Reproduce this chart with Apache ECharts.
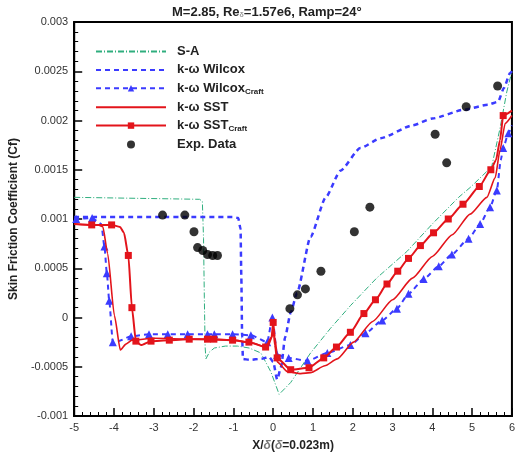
<!DOCTYPE html>
<html>
<head>
<meta charset="utf-8">
<script src="https://cdn.jsdelivr.net/npm/echarts@6/dist/echarts.min.js"></script>
<style>
  html, body { margin: 0; padding: 0; background: #fff; }
  #chart { width: 518px; height: 457px; }
</style>
</head>
<body>
<div id="chart"></div>
<script>
// x = X/delta, y = Cf ; third value 1 = draw a marker on that point
const saData = [[-5,0.00122],[-1.85,0.0012],[-1.78,0.00118],[-1.75,0.0008],[-1.73,0.0002],[-1.71,-0.0003],[-1.69,-0.00042],[-1.6,-0.00035],[-1.48,-0.00031],[-1.2,-0.00029],[-0.9,-0.00029],[-0.6,-0.00031],[-0.31,-0.00036],[-0.06,-0.00055],[0.15,-0.00078],[0.44,-0.00066],[0.94,-0.00036],[1.44,-0.00011],[1.94,0.00012],[2.6,0.0004],[3.36,0.00067],[4.0,0.00095],[4.66,0.00122],[4.95,0.00132],[5.49,0.00153],[5.7,0.00192],[5.87,0.00229],[6,0.0025]];

const wilcoxData = [[-5,0.00102],[-1,0.00102],[-0.88,0.00101],[-0.82,0.0009],[-0.8,0.0004],[-0.78,-0.0002],[-0.76,-0.00042],[-0.6,-0.00043],[-0.3,-0.00042],[-0.1,-0.0004],[0,-0.00045],[0.1,-0.00063],[0.2,-0.0005],[0.3,-0.0002],[0.44,0.00005],[0.6,0.00025],[0.94,0.00082],[1.32,0.00122],[1.69,0.00149],[2.19,0.00172],[2.7,0.00182],[3.5,0.00195],[4.0,0.00202],[4.8,0.00211],[5.4,0.00216],[5.65,0.00219],[5.8,0.00233],[5.95,0.00248],[6,0.0025]];

const wilcoxCraftData = [[-5,0.001,0],[-4.95,0.001,1],[-4.55,0.00101,1],[-4.32,0.00095,0],[-4.24,0.00072,1],[-4.18,0.00045,1],[-4.12,0.00017,1],[-4.03,-0.00025,1],[-3.9,-0.00024,0],[-3.57,-0.00019,1],[-3.12,-0.00017,1],[-2.65,-0.00017,1],[-2.15,-0.00017,1],[-1.65,-0.00017,1],[-1.48,-0.00017,1],[-1.02,-0.00017,1],[-0.56,-0.00018,1],[-0.15,-0.00025,1],[-0.02,0,1],[0.1,-0.00038,1],[0.39,-0.00041,1],[0.86,-0.00044,1],[1.36,-0.00036,1],[1.94,-0.00028,1],[2.32,-0.00016,1],[2.74,-0.00003,1],[3.11,0.00009,1],[3.4,0.00024,1],[3.78,0.00039,1],[4.16,0.00052,1],[4.49,0.00064,1],[4.91,0.0008,1],[5.2,0.00095,1],[5.45,0.00112,1],[5.62,0.00129,1],[5.72,0.0016,0],[5.78,0.00172,1],[5.91,0.00187,1],[6,0.00195,0]];

const sstData = [[-5,0.00095],[-4.4,0.00094],[-4.28,0.00092],[-4.16,0.00065],[-3.99,0.00002],[-3.84,-0.00033],[-3.7,-0.00027],[-3.55,-0.00023],[-3,-0.00021],[-2,-0.00022],[-1,-0.00023],[-0.5,-0.00026],[-0.15,-0.00031],[-0.03,-0.0002],[0,-0.00012],[0.04,-0.00028],[0.1,-0.00045],[0.36,-0.00055],[0.69,-0.00057],[0.94,-0.00056],[1.3,-0.00049],[1.61,-0.00042],[2.02,-0.00025],[2.5,-0.00004],[3,0.00018],[3.5,0.0004],[4,0.00062],[4.5,0.00084],[4.95,0.00105],[5.37,0.00122],[5.58,0.00142],[5.7,0.0017],[5.83,0.00197],[6,0.00205]];

const sstCraftData = [[-5,0.00095,0],[-4.56,0.00094,1],[-4.06,0.00094,1],[-3.85,0.00092,0],[-3.75,0.00086,0],[-3.64,0.00063,1],[-3.55,0.0001,1],[-3.45,-0.00024,1],[-3.32,-0.00028,0],[-3.07,-0.00024,1],[-2.61,-0.00023,1],[-2.11,-0.00022,1],[-1.65,-0.00022,1],[-1.49,-0.00022,1],[-1.02,-0.00023,1],[-0.61,-0.00025,1],[-0.19,-0.0003,1],[-0.04,-0.0002,0],[0,-0.00005,1],[0.04,-0.0002,0],[0.1,-0.00041,1],[0.44,-0.00053,1],[0.9,-0.00051,1],[1.27,-0.00041,1],[1.59,-0.0003,1],[1.94,-0.00015,1],[2.28,0.00004,1],[2.57,0.00018,1],[2.86,0.00034,1],[3.13,0.00047,1],[3.4,0.0006,1],[3.7,0.00073,1],[4.03,0.00086,1],[4.4,0.001,1],[4.77,0.00115,1],[5.18,0.00133,1],[5.47,0.0015,1],[5.6,0.0016,0],[5.7,0.0018,0],[5.78,0.00205,1],[6,0.0021,0]];

const expData = [[-2.78,0.00104],[-2.22,0.00104],[-1.99,0.00087],[-1.9,0.00071],[-1.77,0.00068],[-1.65,0.00064],[-1.52,0.00063],[-1.4,0.00063],[0.42,0.00009],[0.61,0.00023],[0.81,0.00029],[1.2,0.00047],[2.04,0.00087],[2.43,0.00112],[4.07,0.00186],[4.36,0.00157],[4.85,0.00214],[5.64,0.00235]];

const GREEN = '#2fae7e';
const BLUE = '#3b3bff';
const RED = '#e3141b';

const marked = (arr, sym) => arr.map(d => ({ value: [d[0], d[1]], symbol: d[2] ? sym : 'none' }));

const chart = echarts.init(document.getElementById('chart'));

const noMark = { opacity: 0 };

chart.setOption({
  animation: false,
  textStyle: { fontFamily: 'Liberation Sans, Arial, sans-serif' },
  title: {
    text: 'M=2.85, Re{s|δ}=1.57e6, Ramp=24°',
    left: 167,
    top: 1,
    textStyle: {
      fontSize: 13,
      fontWeight: 'bold',
      color: '#222',
      rich: {
        s: { fontSize: 7, fontWeight: 'bold', color: '#999', verticalAlign: 'bottom', padding: [6, 0, 0, 0] }
      }
    }
  },
  legend: {
    orient: 'vertical',
    left: 90,
    top: 40,
    itemWidth: 70,
    itemHeight: 8,
    itemGap: 5.4,
    data: [
      { name: 'S-A', itemStyle: noMark },
      { name: 'k-ω Wilcox', itemStyle: noMark },
      'k-ω WilcoxCraft',
      { name: 'k-ω SST', itemStyle: noMark },
      'k-ω SSTCraft',
      'Exp. Data'
    ],
    formatter: name => name.replace('Craft', '{sub|Craft}'),
    textStyle: {
      fontSize: 13,
      fontWeight: 'bold',
      color: '#222',
      padding: [0, 0, 0, 6],
      rich: {
        sub: { fontSize: 8, fontWeight: 'bold', color: '#222', verticalAlign: 'bottom', padding: [6, 0, 0, 0] }
      }
    }
  },
  grid: {
    left: 73,
    right: 6,
    top: 22,
    bottom: 35,
    show: true,
    borderColor: '#000',
    borderWidth: 2
  },
  xAxis: {
    type: 'value',
    min: -5,
    max: 6,
    interval: 1,
    name: 'X/{i|δ}({i|δ}=0.023m)',
    nameLocation: 'middle',
    nameGap: 24,
    nameTextStyle: {
      fontSize: 12,
      fontWeight: 'bold',
      color: '#222',
      rich: { i: { fontSize: 12, fontStyle: 'italic', color: '#777' } }
    },
    axisLine: { onZero: false, lineStyle: { color: '#000', width: 2 } },
    axisTick: { inside: true, length: 8, lineStyle: { color: '#000', width: 1.5 } },
    minorTick: { show: true, splitNumber: 5, length: 4, lineStyle: { color: '#000' } },
    splitLine: { show: false },
    axisLabel: { fontSize: 11, color: '#333', margin: 6 }
  },
  yAxis: {
    type: 'value',
    min: -0.001,
    max: 0.003,
    interval: 0.0005,
    name: 'Skin Friction Coefficient (Cf)',
    nameLocation: 'middle',
    nameGap: 50,
    nameTextStyle: { fontSize: 12, fontWeight: 'bold', color: '#222' },
    axisLine: { onZero: false, lineStyle: { color: '#000', width: 2 } },
    axisTick: { inside: true, length: 8, lineStyle: { color: '#000', width: 1.5 } },
    minorTick: { show: true, splitNumber: 5, length: 4, lineStyle: { color: '#000' } },
    splitLine: { show: false },
    axisLabel: {
      fontSize: 11,
      color: '#333',
      margin: 6,
      formatter: v => String(parseFloat(v.toFixed(4)))
    }
  },
  series: [
    {
      name: 'S-A',
      type: 'line',
      data: saData,
      symbol: 'none',
      lineStyle: { color: GREEN, width: 1, type: [6, 2, 1, 2] },
      itemStyle: { color: GREEN },
      z: 2
    },
    {
      name: 'k-ω Wilcox',
      type: 'line',
      data: wilcoxData,
      symbol: 'none',
      smooth: 0.2,
      smoothMonotone: 'x',
      lineStyle: { color: BLUE, width: 2.5, type: [5, 4] },
      itemStyle: { color: BLUE },
      z: 3
    },
    {
      name: 'k-ω WilcoxCraft',
      type: 'line',
      data: marked(wilcoxCraftData, 'triangle'),
      symbol: 'triangle',
      symbolSize: 8,
      smooth: 0.2,
      smoothMonotone: 'x',
      lineStyle: { color: BLUE, width: 2, type: [5, 4] },
      itemStyle: { color: BLUE },
      z: 3
    },
    {
      name: 'k-ω SST',
      type: 'line',
      data: sstData,
      symbol: 'none',
      smooth: 0.2,
      smoothMonotone: 'x',
      lineStyle: { color: RED, width: 1.6 },
      itemStyle: { color: RED },
      z: 4
    },
    {
      name: 'k-ω SSTCraft',
      type: 'line',
      data: marked(sstCraftData, 'rect'),
      symbol: 'rect',
      symbolSize: 7,
      smooth: 0.2,
      smoothMonotone: 'x',
      lineStyle: { color: RED, width: 2 },
      itemStyle: { color: RED },
      z: 4
    },
    {
      name: 'Exp. Data',
      type: 'scatter',
      data: expData,
      symbol: 'circle',
      symbolSize: 9,
      itemStyle: { color: '#000' },
      z: 5
    }
  ]
});
</script>
</body>
</html>
